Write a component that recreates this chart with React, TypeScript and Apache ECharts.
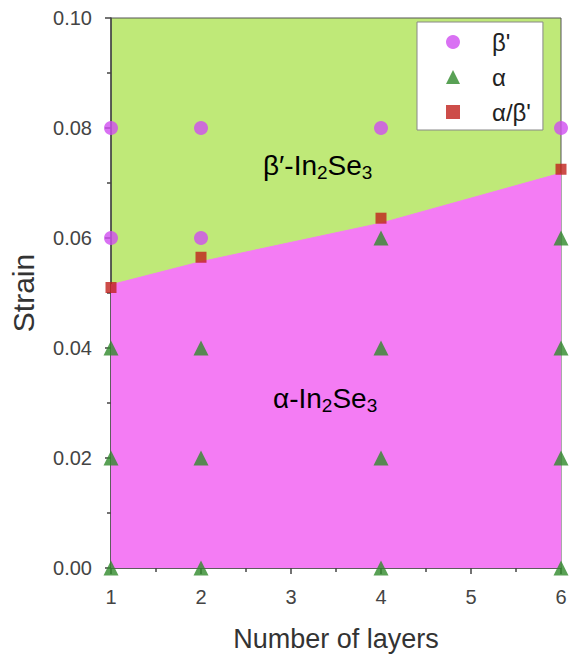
import React, { useEffect, useRef } from "react";
import * as echarts from "echarts";

const layers = [1, 2, 4, 6];
const betaPoints: [number, number][] = [
  [1, 0.08], [2, 0.08], [4, 0.08], [6, 0.08], [1, 0.06], [2, 0.06],
];
const alphaPoints: [number, number][] = [
  [1, 0], [1, 0.02], [1, 0.04],
  [2, 0], [2, 0.02], [2, 0.04],
  [4, 0], [4, 0.02], [4, 0.04], [4, 0.06],
  [6, 0], [6, 0.02], [6, 0.04], [6, 0.06],
];
const mixedStrain = [0.051, 0.0565, 0.0636, 0.0725];
const boundaryStrain = [0.0515, 0.0557, 0.0627, 0.0718];
const yTicks = ["0.00", "0.02", "0.04", "0.06", "0.08", "0.10"];

const FONT = "Liberation Sans, Arial, sans-serif";

export default function App() {
  const ref = useRef<HTMLDivElement>(null);
  useEffect(() => {
    if (!ref.current) return;
    const chart = echarts.init(ref.current, undefined, { renderer: "svg" });
    const subRich = {
      a: { fontSize: 28, fontFamily: FONT, color: "#1a1a1a", lineHeight: 34 },
      s: { fontSize: 19, fontFamily: FONT, color: "#1a1a1a", lineHeight: 34, padding: [14, 0, 0, 0] },
    };
    const axisCol = "#444";
    chart.setOption({
      animation: false,
      textStyle: { fontFamily: FONT },
      grid: {
        left: 110, right: 10, top: 18, bottom: 89,
        show: true, backgroundColor: "#bfe978", borderColor: "#555", borderWidth: 1,
      },
      xAxis: {
        type: "value", min: 1, max: 6, interval: 1,
        name: "Number of layers", nameLocation: "middle", nameGap: 57,
        nameTextStyle: { fontSize: 27, color: "#333", fontFamily: FONT },
        axisLine: { show: true, lineStyle: { color: axisCol, width: 1.5 } },
        axisTick: { show: true, length: 6, lineStyle: { color: axisCol, width: 1.5 } },
        minorTick: { show: true, splitNumber: 2, length: 4, lineStyle: { color: axisCol, width: 1.5 } },
        axisLabel: { fontSize: 20, color: "#444", margin: 19, fontFamily: FONT },
        splitLine: { show: false },
      },
      yAxis: {
        type: "value", min: 0, max: 0.1, interval: 0.02,
        name: "Strain", nameLocation: "middle", nameGap: 73,
        nameTextStyle: { fontSize: 30, color: "#333", fontFamily: FONT },
        axisLine: { show: true, lineStyle: { color: axisCol, width: 1.5 } },
        axisTick: { show: true, length: 6, lineStyle: { color: axisCol, width: 1.5 } },
        minorTick: { show: true, splitNumber: 2, length: 4, lineStyle: { color: axisCol, width: 1.5 } },
        axisLabel: {
          fontSize: 20, color: "#444", margin: 19, fontFamily: FONT,
          formatter: (v: number) => yTicks[Math.round(v / 0.02)] ?? v.toFixed(2),
        },
        splitLine: { show: false },
      },
      legend: {
        orient: "vertical", left: 417, top: 22,
        backgroundColor: "#fff", borderColor: "#888", borderWidth: 1,
        padding: [8, 12, 6, 29], itemGap: 11, itemWidth: 14, itemHeight: 14,
        textStyle: { fontSize: 24, color: "#222", fontFamily: FONT, padding: [0, 0, 0, 27] },
        data: ["β'", "α", "α/β'"],
      },
      graphic: [
        {
          type: "text", left: 263, top: 149, z: 10,
          style: { text: "{a|β′-In}{s|2}{a|Se}{s|3}", rich: subRich },
        },
        {
          type: "text", left: 273, top: 382, z: 10,
          style: { text: "{a|α-In}{s|2}{a|Se}{s|3}", rich: subRich },
        },
      ],
      series: [
        {
          type: "line", name: "boundary",
          data: layers.map((x, i) => [x, boundaryStrain[i]]),
          symbol: "none", lineStyle: { width: 1, color: "#f47cf4" },
          areaStyle: { color: "#f47cf4", opacity: 1 },
          z: 1, silent: true,
        },
        {
          type: "scatter", name: "β'", data: betaPoints, symbol: "circle", symbolSize: 14,
          itemStyle: { color: "#d04ef0" }, clip: false, z: 5,
        },
        {
          type: "scatter", name: "α", data: alphaPoints, symbol: "triangle", symbolSize: 15,
          itemStyle: { color: "#2f8a2a" }, clip: false, z: 5,
        },
        {
          type: "scatter", name: "α/β'", data: layers.map((x, i) => [x, mixedStrain[i]]),
          symbol: "rect", symbolSize: 11,
          itemStyle: { color: "#c0201c" }, clip: false, z: 6,
        },
      ],
    });
    return () => chart.dispose();
  }, []);
  return (
    <div
      ref={ref}
      style={{ position: "fixed", left: 0, top: 0, width: 571, height: 657, background: "#fff" }}
    />
  );
}
